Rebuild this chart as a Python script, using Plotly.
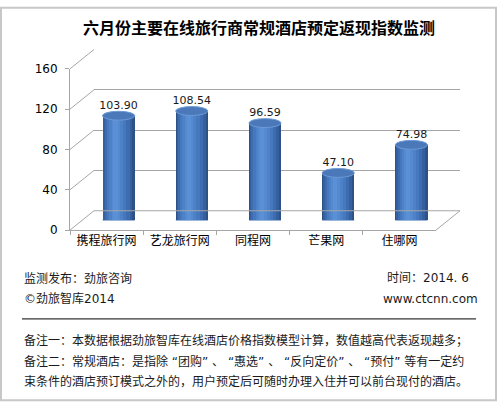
import plotly.graph_objects as go

# 数据
categories = ["携程旅行网", "艺龙旅行网", "同程网", "芒果网", "住哪网"]
values = [103.90, 108.54, 96.59, 47.10, 74.98]
y_ticks = [0, 40, 80, 120, 160]

W, H = 497, 408
FONT_NUM = "DejaVu Sans, Noto Sans CJK SC"
FONT_CJK = "Noto Sans CJK SC"


def px(x):
    return x / W


def py(y):
    return 1 - y / H


# 前墙 / 后墙 / 柱体所在平面 (像素)
FX0, FX1, FY0, FY1 = 70, 436, 231, 64
DX, DY = 24, -20
BX0, BX1, BY0, BY1 = FX0 + DX, FX1 + DX, FY0 + DY, FY1 + DY
MX0, MX1, MY0, MY1 = FX0 + DX / 2, FX1 + DX / 2, FY0 + DY / 2, FY1 + DY / 2

YMAX = 160
BAR_W = 0.44
ELL_H = 4.4  # 半高, 数据单位
GRID = "#a6a6a6"

fig = go.Figure()

# 前轴(刻度标签)
fig.add_trace(go.Scatter(x=categories, y=values, mode="markers",
                         marker=dict(opacity=0), hoverinfo="skip",
                         showlegend=False, xaxis="x", yaxis="y"))
# 后墙网格
fig.add_trace(go.Scatter(x=categories, y=values, mode="markers",
                         marker=dict(opacity=0), hoverinfo="skip",
                         showlegend=False, xaxis="x2", yaxis="y2"))

# 圆柱: 多层叠加模拟渐变
layers = [
    (0.00, 1.00, "#2e5186"),
    (0.03, 0.93, "#3560a0"),
    (0.08, 0.84, "#3d6cb0"),
    (0.14, 0.74, "#4678bd"),
    (0.21, 0.64, "#4e82c8"),
    (0.28, 0.55, "#558ad0"),
    (0.34, 0.47, "#5a90d6"),
]
for lo, hi, col in layers:
    fig.add_trace(go.Bar(
        x=categories, y=values, width=BAR_W * (hi - lo),
        offset=-BAR_W / 2 + BAR_W * lo,
        marker=dict(color=col, line=dict(width=0)),
        hoverinfo="skip", showlegend=False, xaxis="x3", yaxis="y3",
    ))

# 数值标签
fig.add_trace(go.Scatter(
    x=categories, y=[v + ELL_H for v in values], mode="text",
    text=[f"{v:.2f}" for v in values], textposition="top center",
    textfont=dict(family=FONT_NUM, size=11, color="#1a1a1a"),
    hoverinfo="skip", showlegend=False, xaxis="x3", yaxis="y3",
))

shapes = []
# 斜线(网格连接)
for t in y_ticks:
    fy = FY0 + (FY1 - FY0) * t / YMAX
    shapes.append(dict(type="line", xref="paper", yref="paper",
                       x0=px(FX0), y0=py(fy), x1=px(BX0), y1=py(fy + DY),
                       line=dict(color=GRID, width=1)))
# 地板
shapes.append(dict(type="line", xref="paper", yref="paper",
                   x0=px(FX1), y0=py(FY0), x1=px(BX1), y1=py(BY0),
                   line=dict(color=GRID, width=1)))
shapes.append(dict(type="line", xref="paper", yref="paper",
                   x0=px(BX0), y0=py(BY0), x1=px(BX1), y1=py(BY0),
                   line=dict(color=GRID, width=1)))

# 柱底 / 柱顶椭圆
for i, v in enumerate(values):
    shapes.append(dict(type="circle", xref="x3", yref="y3", layer="between",
                       x0=i - BAR_W / 2, x1=i + BAR_W / 2,
                       y0=-ELL_H, y1=ELL_H,
                       fillcolor="#3d6cb0", line=dict(width=0)))
    shapes.append(dict(type="circle", xref="x3", yref="y3", layer="above",
                       x0=i - BAR_W / 2, x1=i + BAR_W / 2,
                       y0=v - ELL_H, y1=v + ELL_H,
                       fillcolor="#4a78b8", line=dict(color="#6d9ad6", width=1)))

# 外框和分隔线
shapes.append(dict(type="rect", xref="paper", yref="paper",
                   x0=0.002, y0=0.002, x1=0.998, y1=0.998,
                   line=dict(color="#c8c8c8", width=2)))
shapes.append(dict(type="line", xref="paper", yref="paper",
                   x0=px(22), y0=py(323), x1=px(476), y1=py(323),
                   line=dict(color="#000000", width=1)))

footer = [
    ("监测发布：劲旅咨询", 22, 281, "left"),
    ("©劲旅智库2014", 22, 302, "left"),
    ("时间：2014. 6", 471, 281, "right"),
    ("www.ctcnn.com", 480, 302, "right"),
    ("备注一：本数据根据劲旅智库在线酒店价格指数模型计算，数值越高代表返现越多；", 22, 345, "left"),
    ("备注二：常规酒店：是指除 “团购” 、 “惠选” 、 “反向定价” 、 “预付” 等有一定约", 22, 367, "left"),
    ("束条件的酒店预订模式之外的，用户预定后可随时办理入住并可以前台现付的酒店。", 22, 388, "left"),
]
annotations = [dict(text="<b>六月份主要在线旅行商常规酒店预定返现指数监测</b>",
                    x=px(259), y=py(21), xref="paper", yref="paper",
                    showarrow=False, xanchor="center", yanchor="middle",
                    font=dict(family=FONT_CJK, size=16, color="#000000"))]
for txt, x, y, anchor in footer:
    annotations.append(dict(text=txt, x=px(x), y=py(y), xref="paper", yref="paper",
                            showarrow=False, xanchor=anchor, yanchor="middle",
                            font=dict(family=FONT_NUM, size=12, color="#1a1a1a")))

fig.update_layout(
    width=W, height=H,
    margin=dict(l=0, r=0, t=0, b=0),
    paper_bgcolor="white", plot_bgcolor="rgba(0,0,0,0)",
    barmode="overlay", bargap=0,
    showlegend=False,
    xaxis=dict(domain=[px(FX0), px(FX1)], range=[-0.5, 4.5], anchor="y",
               type="category", categoryarray=categories,
               showline=True, linecolor=GRID, linewidth=1,
               ticks="outside", tickson="boundaries", ticklen=4, tickcolor=GRID,
               showgrid=False, zeroline=False,
               tickfont=dict(family=FONT_CJK, size=12, color="#000000")),
    yaxis=dict(domain=[py(FY0), py(FY1)], range=[0, YMAX], anchor="x",
               tickvals=y_ticks, showline=True, linecolor=GRID, linewidth=1,
               ticks="outside", ticklen=4, tickcolor=GRID, ticklabelstandoff=5,
               showgrid=False, zeroline=False,
               tickfont=dict(family=FONT_NUM, size=12, color="#000000")),
    xaxis2=dict(domain=[px(BX0), px(BX1)], range=[-0.5, 4.5], anchor="y2",
                type="category", categoryarray=categories, visible=False),
    yaxis2=dict(domain=[py(BY0), py(BY1)], range=[0, YMAX], anchor="x2",
                tickvals=y_ticks, showgrid=True, gridcolor=GRID, gridwidth=1,
                showticklabels=False, zeroline=False, showline=False, ticks=""),
    xaxis3=dict(domain=[px(MX0), px(MX1)], range=[-0.5, 4.5], anchor="y3",
                type="category", categoryarray=categories, visible=False),
    yaxis3=dict(domain=[py(MY0), py(MY1)], range=[0, YMAX], anchor="x3",
                visible=False),
    shapes=shapes,
    annotations=annotations,
)

fig.write_html("out.html", config={"displayModeBar": False},
               post_script="document.body.style.margin='0';"
                           "document.body.style.overflow='hidden';")
